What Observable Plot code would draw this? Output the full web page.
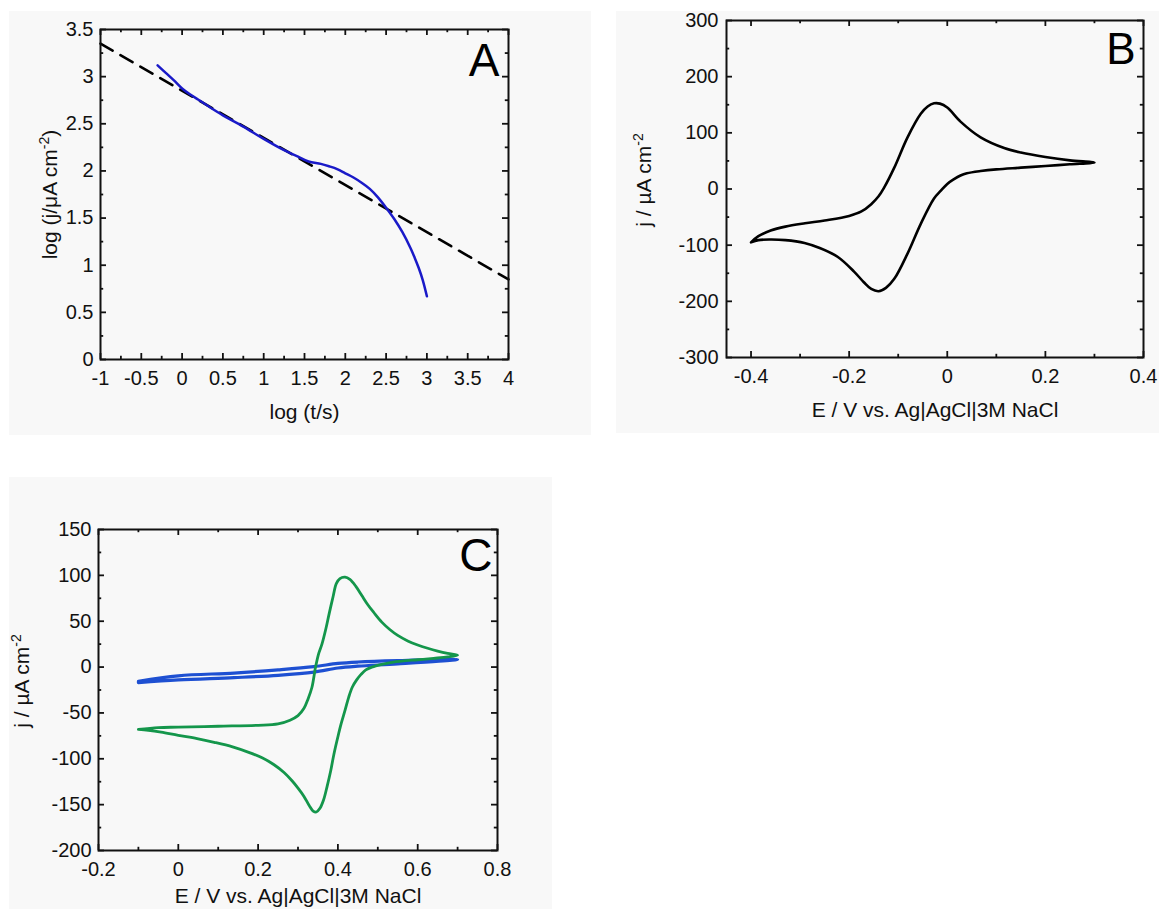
<!DOCTYPE html>
<html>
<head>
<meta charset="utf-8">
<script src="https://cdn.jsdelivr.net/npm/d3@7"></script>
<script src="https://cdn.jsdelivr.net/npm/@observablehq/plot@0.6"></script>
<style>
html, body { margin: 0; padding: 0; background: #ffffff; overflow: hidden; width: 1159px; height: 909px; }
.panel { position: absolute; background: #f8f8f8; overflow: visible; }
.panel svg { display: block; }
</style>
</head>
<body>
<div id="panelA" class="panel" style="left:9px; top:11px; width:582px; height:424px;"></div>
<div id="panelB" class="panel" style="left:616px; top:11px; width:543px; height:422px;"></div>
<div id="panelC" class="panel" style="left:9px; top:477px; width:543px; height:432px;"></div>
<script>
// ---------------- Panel A data ----------------
const aLogT = [-0.3, -0.2, -0.1, 0, 0.1, 0.2, 0.35, 0.5, 0.75, 1.0, 1.25, 1.4, 1.55, 1.7, 1.8, 1.9, 2.0, 2.1, 2.2, 2.3, 2.4, 2.5, 2.6, 2.7, 2.8, 2.85, 2.9, 2.95, 3.0];
const aLogJ = [3.12, 3.04, 2.96, 2.875, 2.81, 2.755, 2.67, 2.59, 2.47, 2.34, 2.22, 2.16, 2.10, 2.075, 2.05, 2.02, 1.975, 1.93, 1.875, 1.81, 1.72, 1.61, 1.49, 1.35, 1.18, 1.08, 0.97, 0.84, 0.67];
const aFitT = [-1, 4];
const aFitJ = [3.35, 0.85];
const aXMajor = [-1, -0.5, 0, 0.5, 1, 1.5, 2, 2.5, 3, 3.5, 4];
const aXMinor = [-0.75, -0.25, 0.25, 0.75, 1.25, 1.75, 2.25, 2.75, 3.25, 3.75];
const aYMajor = [0, 0.5, 1, 1.5, 2, 2.5, 3, 3.5];
const aYMinor = [0.25, 0.75, 1.25, 1.75, 2.25, 2.75, 3.25];

// ---------------- Panel B data ----------------
const bE = [-0.4, -0.385, -0.36, -0.33, -0.29, -0.25, -0.2, -0.175, -0.155, -0.14, -0.129, -0.108, -0.081, -0.054, -0.04, -0.027, -0.015, 0, 0.027, 0.068, 0.116, 0.15, 0.2, 0.25, 0.3,
            0.25, 0.2, 0.15, 0.1, 0.068, 0.04, 0.027, 0.013, 0, -0.013, -0.027, -0.054, -0.081, -0.108, -0.125, -0.14, -0.155, -0.17, -0.19, -0.223, -0.26, -0.291, -0.33, -0.36, -0.385, -0.4];
const bJ = [-95, -84, -74, -67, -61, -56, -48, -40, -27, -13, 2, 38, 92, 134, 147, 152.5, 152, 145, 120, 92, 73, 65, 57, 51, 47,
            44, 41, 38, 35, 32, 28, 24, 17, 9, -3, -17, -62, -115, -160, -176, -182, -178, -166, -147, -121, -105, -96, -91, -90, -91, -95];
const bXMajor = [-0.4, -0.2, 0, 0.2, 0.4];
const bXMinor = [-0.3, -0.1, 0.1, 0.3];
const bYMajor = [-300, -200, -100, 0, 100, 200, 300];
const bYMinor = [-250, -150, -50, 50, 150, 250];

// ---------------- Panel C data ----------------
const cGreenE = [-0.1, -0.05, 0, 0.1, 0.2, 0.25, 0.28, 0.3, 0.315, 0.325, 0.335, 0.344, 0.352, 0.36, 0.37, 0.378, 0.388, 0.396, 0.405, 0.418, 0.43, 0.445, 0.46, 0.475, 0.49, 0.51, 0.53, 0.55, 0.575, 0.6, 0.625, 0.65, 0.675, 0.7,
                 0.675, 0.64, 0.6, 0.56, 0.539, 0.51, 0.485, 0.47, 0.458, 0.447, 0.436, 0.427, 0.418, 0.408, 0.4, 0.39, 0.382, 0.373, 0.364, 0.355, 0.346, 0.338, 0.328, 0.315, 0.3, 0.285, 0.265, 0.24, 0.21, 0.18, 0.136, 0.09, 0.047, 0, -0.043, -0.075, -0.1];
const cGreenJ = [-68, -66, -65.5, -64.5, -63.5, -62, -58, -53, -45, -35, -22, 0, 15, 25, 42, 58, 77, 91, 96.5, 98, 95.5, 88, 78, 68, 59.5, 49, 41, 34.5, 28.5, 24, 20.5, 17.5, 15, 13,
                 11, 9.5, 8, 6.5, 5.5, 3, 0, -3, -8, -14, -22, -33, -47, -62, -76, -95, -113, -130, -145, -154, -158, -157, -151, -141, -132, -124, -115, -106.5, -99, -93.5, -87, -82, -78, -74.5, -71, -69, -68];
const cBlueE = [-0.1, 0, 0.14, 0.25, 0.34, 0.4, 0.45, 0.55, 0.7, 0.55, 0.45, 0.4, 0.34, 0.25, 0.14, 0, -0.1];
const cBlueJ = [-15.5, -9.5, -6.5, -3, 0.5, 4, 5.5, 7, 8.2, 3.5, 1, -1, -5.5, -9, -11.5, -14, -17];
const cXMajor = [-0.2, 0, 0.2, 0.4, 0.6, 0.8];
const cXMinor = [-0.1, 0.1, 0.3, 0.5, 0.7];
const cYMajor = [-200, -150, -100, -50, 0, 50, 100, 150];
const cYMinor = [-175, -125, -75, -25, 25, 75, 125];

const FONT = "'Liberation Sans', Arial, Helvetica, sans-serif";
const INK = "#111111";
const TICK_FS = 20;
const LABEL_FS = 21;

function superscripts(svg) {
  const ns = "http://www.w3.org/2000/svg";
  svg.querySelectorAll("text").forEach(t => {
    const s = t.textContent;
    const i = s.indexOf("⁻²");
    if (i < 0) return;
    const before = s.slice(0, i), after = s.slice(i + 2);
    while (t.firstChild) t.removeChild(t.firstChild);
    t.appendChild(document.createTextNode(before));
    const sup = document.createElementNS(ns, "tspan");
    sup.setAttribute("dy", "-8");
    sup.setAttribute("font-size", "14");
    sup.textContent = "-2";
    t.appendChild(sup);
    if (after) {
      const rest = document.createElementNS(ns, "tspan");
      rest.setAttribute("dy", "8");
      rest.textContent = after;
      t.appendChild(rest);
    }
  });
}

function panel(o) {
  const [mt, mr, mb, ml] = o.margins;
  const pw = o.width - ml - mr, ph = o.height - mt - mb;
  const T = 6, t = 3.2, sw = 1.8;
  const tk = {stroke: INK, strokeWidth: sw};
  const marks = [
    ...o.marks,
    Plot.tickX(o.xMajor, {x: d => d, insetTop: ph - T, ...tk}),
    Plot.tickX(o.xMajor, {x: d => d, insetBottom: ph - T, ...tk}),
    Plot.tickX(o.xMinor, {x: d => d, insetTop: ph - t, ...tk}),
    Plot.tickX(o.xMinor, {x: d => d, insetBottom: ph - t, ...tk}),
    Plot.tickY(o.yMajor, {y: d => d, insetRight: pw - T, ...tk}),
    Plot.tickY(o.yMajor, {y: d => d, insetLeft: pw - T, ...tk}),
    Plot.tickY(o.yMinor, {y: d => d, insetRight: pw - t, ...tk}),
    Plot.tickY(o.yMinor, {y: d => d, insetLeft: pw - t, ...tk}),
    Plot.frame({stroke: INK, strokeWidth: 2}),
    Plot.axisX(o.xMajor, {anchor: "bottom", tickSize: 0, tickPadding: o.xPad ?? 11, tickFormat: d => String(d), fontSize: TICK_FS, label: null, fill: INK}),
    Plot.axisY(o.yMajor, {anchor: "left", tickSize: 0, tickPadding: o.yPad ?? 7, tickFormat: d => String(d), fontSize: TICK_FS, label: null, fill: INK}),
    Plot.text([o.xLabel], {text: d => d, frameAnchor: "bottom", dy: o.xLabelDy, lineAnchor: "middle", textAnchor: "middle", fontSize: LABEL_FS, fill: INK}),
    Plot.text([o.yLabel], {text: d => d, frameAnchor: "left", dx: o.yLabelDx, dy: o.yLabelDy, rotate: -90, lineAnchor: "middle", textAnchor: "middle", fontSize: LABEL_FS, fill: INK}),
    Plot.text([o.letter], {text: d => d, frameAnchor: "top-right", dx: o.letterDx, dy: o.letterDy, lineAnchor: "top", textAnchor: "end", fontSize: o.letterSize, fill: "#000"})
  ];
  const svg = Plot.plot({
    width: o.width,
    height: o.height,
    marginTop: mt, marginRight: mr, marginBottom: mb, marginLeft: ml,
    style: {background: "transparent", fontFamily: FONT, fontSize: TICK_FS + "px", color: INK, overflow: "visible"},
    x: {domain: o.xDomain, axis: null},
    y: {domain: o.yDomain, axis: null},
    marks
  });
  superscripts(svg);
  document.getElementById(o.el).appendChild(svg);
}

// Panel A
panel({
  el: "panelA", width: 582, height: 424, margins: [18, 83, 76, 91],
  xDomain: [-1, 4], yDomain: [0, 3.5],
  xMajor: aXMajor, xMinor: aXMinor, yMajor: aYMajor, yMinor: aYMinor,
  xLabel: "log (t/s)", xLabelDy: 53,
  yLabel: "log (j/μA cm⁻²)", yLabelDx: -50, yLabelDy: 0,
  letter: "A", letterDx: -9, letterDy: 14, letterSize: 46,
  marks: [
    Plot.line(aFitT.map((x, i) => ({x, y: aFitJ[i]})), {x: "x", y: "y", stroke: "#000", strokeWidth: 2.6, strokeDasharray: "14,9"}),
    Plot.line(aLogT.map((x, i) => ({x, y: aLogJ[i]})), {x: "x", y: "y", stroke: "#1a1ac8", strokeWidth: 2.5, curve: "catmull-rom"})
  ]
});

// Panel B
panel({
  el: "panelB", width: 543, height: 422, margins: [9, 16, 76, 110],
  xDomain: [-0.45, 0.4], yDomain: [-300, 300],
  xMajor: bXMajor, xMinor: bXMinor, yMajor: bYMajor, yMinor: bYMinor,
  xLabel: "E / V vs. Ag|AgCl|3M NaCl", xLabelDy: 53,
  yLabel: "j / µA cm⁻²", yLabelDx: -82, yLabelDy: -9,
  letter: "B", letterDx: -8, letterDy: 12, letterSize: 44,
  yPad: 8,
  marks: [
    Plot.line(bE.map((x, i) => ({x, y: bJ[i]})), {x: "x", y: "y", stroke: "#000", strokeWidth: 2.6, curve: "catmull-rom"})
  ]
});

// Panel C
panel({
  el: "panelC", width: 543, height: 432, margins: [52, 55, 59, 89],
  xDomain: [-0.2, 0.8], yDomain: [-200, 150],
  xMajor: cXMajor, xMinor: cXMinor, yMajor: cYMajor, yMinor: cYMinor,
  xLabel: "E / V vs. Ag|AgCl|3M NaCl", xLabelDy: 46,
  yLabel: "j / µA cm⁻²", yLabelDx: -76, yLabelDy: -9,
  letter: "C", letterDx: -5, letterDy: 9, letterSize: 46,
  marks: [
    Plot.line(cBlueE.map((x, i) => ({x, y: cBlueJ[i]})), {x: "x", y: "y", stroke: "#1e50d2", strokeWidth: 3.2, curve: "catmull-rom"}),
    Plot.line(cGreenE.map((x, i) => ({x, y: cGreenJ[i]})), {x: "x", y: "y", stroke: "#14964b", strokeWidth: 2.8, curve: "catmull-rom"})
  ]
});
</script>
</body>
</html>
